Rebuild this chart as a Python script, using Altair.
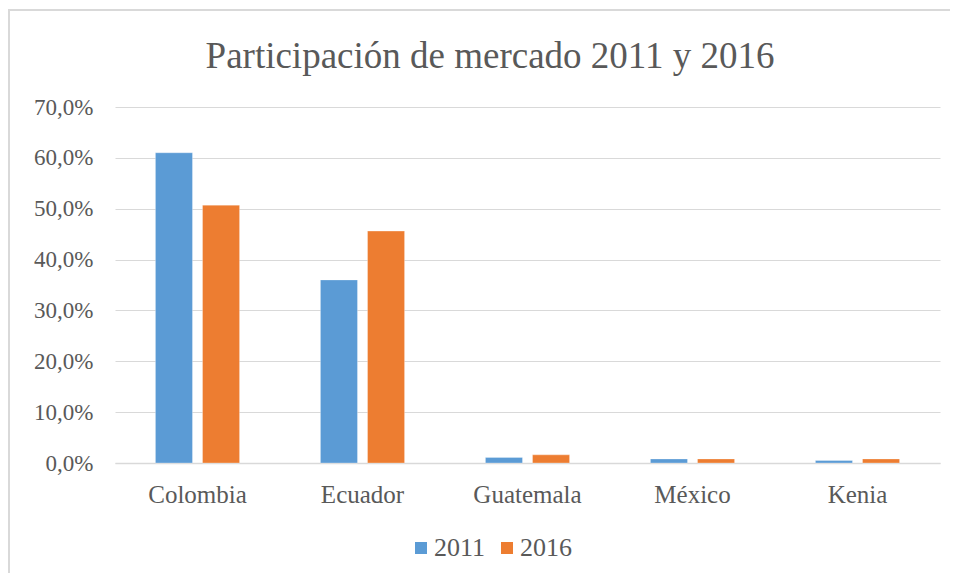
import altair as alt
import pandas as pd

countries = ["Colombia", "Ecuador", "Guatemala", "México", "Kenia"]
share_2011 = [0.610, 0.360, 0.011, 0.008, 0.005]
share_2016 = [0.507, 0.456, 0.016, 0.008, 0.008]
years = ["2011", "2016"]
y_ticks = [0, 0.1, 0.2, 0.3, 0.4, 0.5, 0.6, 0.7]
title_text = "Participación de mercado 2011 y 2016"

rows = []
for c, a, b in zip(countries, share_2011, share_2016):
    rows.append({"pais": c, "anio": "2011", "valor": a})
    rows.append({"pais": c, "anio": "2016", "valor": b})
df = pd.DataFrame(rows)

FONT = "Liberation Serif"
GRAY = "#595959"

bars = alt.Chart(df).mark_bar(stroke="white", strokeWidth=0.5, strokeOpacity=0.6).encode(
    x=alt.X("pais:N", sort=countries, title=None,
            scale=alt.Scale(paddingInner=0.49, paddingOuter=0.245),
            axis=alt.Axis(labelAngle=0, ticks=False, domainColor="#d9d9d9", domainWidth=1.5,
                          labelFont=FONT, labelFontSize=25, labelColor=GRAY, labelPadding=19)),
    xOffset=alt.XOffset("anio:N", sort=years, scale=alt.Scale(paddingInner=0.213)),
    y=alt.Y("valor:Q", title=None,
            scale=alt.Scale(domain=[0, 0.7], nice=False),
            axis=alt.Axis(values=y_ticks, domain=False, ticks=False, gridColor="#d9d9d9",
                          gridWidth=1.2,
                          labelExpr="replace(format(datum.value, '.1%'), '.', ',')",
                          labelFont=FONT, labelFontSize=23, labelColor=GRAY, labelPadding=22)),
    color=alt.Color("anio:N", sort=years,
                    scale=alt.Scale(domain=years, range=["#5B9BD5", "#ED7D31"]),
                    legend=alt.Legend(title=None, orient="none", direction="horizontal",
                                      legendX=293, legendY=428, symbolType="square",
                                      symbolSize=144, symbolStrokeWidth=0,
                                      labelFont=FONT, labelFontSize=26, labelColor=GRAY,
                                      labelOffset=0, columnPadding=8)),
)

border = alt.Chart(pd.DataFrame({"a": [0]})).mark_rect(
    fill=None, stroke="#d9d9d9", strokeWidth=2
).encode(
    x=alt.value(-106), x2=alt.value(1000), y=alt.value(-97), y2=alt.value(600)
)

title = alt.Chart(pd.DataFrame({"t": [title_text]})).mark_text(
    font=FONT, fontSize=37, color=GRAY, align="center", baseline="alphabetic"
).encode(
    text="t:N", x=alt.value(375), y=alt.value(-39)
)

chart = alt.layer(border, bars, title).properties(
    width=825, height=356,
    background="white",
    autosize=alt.AutoSizeParams(type="none"),
    padding={"left": 107, "top": 99, "right": 10, "bottom": 110},
).configure_view(stroke="transparent", strokeWidth=0)

chart.save("out.html", embed_options={"renderer": "svg", "actions": False})
